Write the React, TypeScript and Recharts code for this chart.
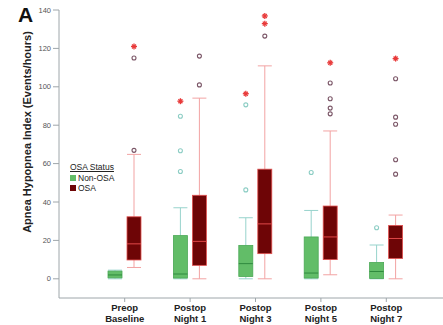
import React from 'react';
import { ComposedChart, Bar, XAxis, YAxis, Legend } from 'recharts';

const categories = ['Preop Baseline', 'Postop Night 1', 'Postop Night 3', 'Postop Night 5', 'Postop Night 7'];
const yTicks = [0, 20, 40, 60, 80, 100, 120, 140];

// Non-OSA box stats
const nonOsaMin = [0, 0, 0, 0, 0];
const nonOsaQ1 = [0.5, 0.4, 1.2, 0.4, 0.2];
const nonOsaMedian = [2, 2.5, 7.9, 3, 3.8];
const nonOsaQ3 = [4, 22.5, 17.4, 21.8, 8.5];
const nonOsaMax = [4.5, 37, 31.8, 35.6, 17.6];
const nonOsaOutliers = [[], [55.9, 66.7, 84.7], [46.3, 90.6], [55.4], [26.6]];
const nonOsaExtremes = [[], [92.5], [96.4], [], []];

// OSA box stats
const osaMin = [5.9, 0, 0, 2.1, 0];
const osaQ1 = [9.8, 7, 13.1, 10, 10.6];
const osaMedian = [18.2, 19.5, 28.6, 21.8, 21];
const osaQ3 = [32.3, 43.5, 57.1, 37.9, 27.8];
const osaMax = [64.8, 94.1, 110.9, 77, 33.2];
const osaOutliers = [[66.9, 115], [101, 116], [126.4], [85.9, 88.9, 93.8, 102], [54.5, 62, 80.5, 84.2, 104.2]];
const osaExtremes = [[121], [], [132.9, 136.9], [112.5], [114.7]];

const FONT = '"Liberation Sans", Arial, sans-serif';
const AXIS = '#9ea6aa';

const data = categories.map((name, i) => ({
  name,
  nonOsa: [nonOsaMin[i], nonOsaMax[i]],
  osa: [osaMin[i], osaMax[i]],
  nonOsaStats: { min: nonOsaMin[i], q1: nonOsaQ1[i], med: nonOsaMedian[i], q3: nonOsaQ3[i], max: nonOsaMax[i], out: nonOsaOutliers[i], ext: nonOsaExtremes[i] },
  osaStats: { min: osaMin[i], q1: osaQ1[i], med: osaMedian[i], q3: osaQ3[i], max: osaMax[i], out: osaOutliers[i], ext: osaExtremes[i] },
}));

const palettes = {
  nonOsaStats: { fill: '#62bd68', stroke: '#4aa855', median: '#2f8a3e', whisker: '#97d3cc', outlier: '#8ccdc4' },
  osaStats: { fill: '#6e0506', stroke: '#e2504f', median: '#e04848', whisker: '#f2a3a3', outlier: '#7a5566' },
};

const makeBox = (key: 'nonOsaStats' | 'osaStats') => (props: any) => {
  const { x, y, width, height, payload } = props;
  const s = payload[key];
  const c = palettes[key];
  const top = Math.min(y, y + height);
  const bottom = Math.max(y, y + height);
  const per = (bottom - top) / (s.max - s.min || 1);
  const py = (v: number) => bottom - (v - s.min) * per;
  const cx = x + width / 2;
  return (
    <g>
      <line x1={cx} x2={cx} y1={py(s.max)} y2={py(s.q3)} stroke={c.whisker} strokeWidth={1} />
      <line x1={cx} x2={cx} y1={py(s.q1)} y2={py(s.min)} stroke={c.whisker} strokeWidth={1} />
      <line x1={x} x2={x + width} y1={py(s.max)} y2={py(s.max)} stroke={c.whisker} strokeWidth={1} />
      <line x1={x} x2={x + width} y1={py(s.min)} y2={py(s.min)} stroke={c.whisker} strokeWidth={1} />
      <rect x={x} y={py(s.q3)} width={width} height={Math.max(py(s.q1) - py(s.q3), 1)} fill={c.fill} stroke={c.stroke} strokeWidth={0.8} />
      <line x1={x} x2={x + width} y1={py(s.med)} y2={py(s.med)} stroke={c.median} strokeWidth={1} />
      {s.out.map((v: number, j: number) => (
        <circle key={'o' + j} cx={cx} cy={py(v)} r={2} fill="none" stroke={c.outlier} strokeWidth={1.1} />
      ))}
      {s.ext.map((v: number, j: number) => (
        <g key={'e' + j} stroke="#e83a3a" strokeWidth={1.3}>
          <line x1={cx - 3} x2={cx + 3} y1={py(v)} y2={py(v)} />
          <line x1={cx} x2={cx} y1={py(v) - 3} y2={py(v) + 3} />
          <line x1={cx - 2} x2={cx + 2} y1={py(v) - 2} y2={py(v) + 2} />
          <line x1={cx - 2} x2={cx + 2} y1={py(v) + 2} y2={py(v) - 2} />
        </g>
      ))}
    </g>
  );
};

const XTick = ({ x, y, payload }: any) => {
  const words = String(payload.value).split(' ');
  const first = words[0];
  const second = words.slice(1).join(' ');
  return (
    <text x={x} y={y} textAnchor="middle" fontFamily={FONT} fontWeight="bold" fontSize={9.5} fill="#222">
      <tspan x={x} dy={8}>{first}</tspan>
      <tspan x={x} dy={11}>{second}</tspan>
    </text>
  );
};

const renderLegend = (props: any) => {
  const items = props.payload || [];
  return (
    <div style={{ fontFamily: FONT, fontSize: 8.5, color: '#222', lineHeight: '10px' }}>
      <div style={{ textDecoration: 'underline', marginBottom: 1 }}>OSA Status</div>
      {items.map((it: any) => (
        <div key={it.value} style={{ display: 'flex', alignItems: 'center' }}>
          <span style={{ display: 'inline-block', width: 6, height: 6, background: it.color, marginRight: 2 }} />
          {it.value}
        </div>
      ))}
    </div>
  );
};

export default function App() {
  return (
    <div style={{ position: 'absolute', left: 0, top: 0, width: 443, height: 325, overflow: 'hidden', background: '#fff' }}>
      <style>{'body{margin:0;overflow:hidden}'}</style>
      <div style={{ position: 'absolute', left: 18, top: 3, fontFamily: FONT, fontWeight: 'bold', fontSize: 21, color: '#111' }}>A</div>
      <ComposedChart width={460} height={325} data={data} margin={{ top: 10, right: 8, bottom: 0, left: 0 }} barGap={5} barSize={14}>
        <XAxis
          dataKey="name"
          height={27}
          padding={{ left: 33, right: 33 }}
          stroke={AXIS}
          tickSize={4}
          tickMargin={1}
          tick={<XTick />}
          interval={0}
        />
        <XAxis xAxisId="top" orientation="top" dataKey="name" height={0} tick={false} tickLine={false} stroke={AXIS} />
        <YAxis
          type="number"
          domain={[-10, 140]}
          ticks={yTicks}
          width={59}
          stroke={AXIS}
          tickSize={6}
          tickMargin={2}
          tick={{ fontSize: 7.5, fill: '#555', fontFamily: FONT }}
          label={({ viewBox }: any) => (
            <text
              x={viewBox.x + 27}
              y={viewBox.y + viewBox.height / 2 - 22}
              transform={`rotate(-90 ${viewBox.x + 27} ${viewBox.y + viewBox.height / 2 - 22})`}
              textAnchor="middle"
              dominantBaseline="central"
              fontFamily={FONT}
              fontWeight="bold"
              fontSize={11}
              fill="#222"
            >
              Apnea Hypopnea Index (Events/hours)
            </text>
          )}
        />
        <Legend
          content={renderLegend}
          layout="horizontal"
          verticalAlign="middle"
          align="center"
          wrapperStyle={{ left: 70, top: 162, width: 'auto' }}
        />
        <Bar dataKey="nonOsa" name="Non-OSA" fill="#62bd68" shape={makeBox('nonOsaStats')} isAnimationActive={false} />
        <Bar dataKey="osa" name="OSA" fill="#6e0506" shape={makeBox('osaStats')} isAnimationActive={false} />
      </ComposedChart>
    </div>
  );
}
